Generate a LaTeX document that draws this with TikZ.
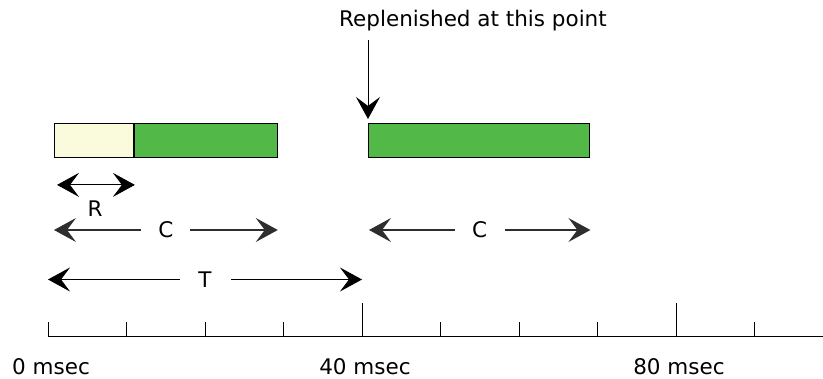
\documentclass[tikz,border=0pt]{standalone}
\usepackage{fontspec}
\setmainfont{DejaVu Sans}
\usetikzlibrary{arrows.meta,calc}

\definecolor{budget}{HTML}{52B848}
\definecolor{spent}{HTML}{FAFADC}
\definecolor{dimgray}{HTML}{2E2E2E}

\tikzset{
  lbl/.style={font=\fontsize{21.5}{25}\selectfont, inner sep=0pt},
  seg/.style={draw=black, line width=0.9pt, minimum height=34pt, inner sep=0pt, anchor=north west},
  bighead/.tip={Stealth[length=22pt 0 0,width=24pt 0 0,inset=9pt 0]},
  headtip/.style={-bighead},
  span/.style={bighead-bighead},
  gap/.style={lbl, fill=white, minimum height=20pt},
  tickline/.style={line width=0.9pt, draw=black},
}

\begin{document}
\begin{tikzpicture}[x=1pt,y=-1pt]
  \useasboundingbox (0,0) rectangle (823,379);

  % budget bars
  \node[seg, fill=spent, minimum width=79pt] (used) at (54,123) {};
  \node[seg, fill=budget, minimum width=143pt] (rest) at (used.north east) {};
  \node[seg, fill=budget, minimum width=221pt] (refill) at (368,123) {};

  % time axis with ticks every 10 msec
  \coordinate (axl) at (48,336);
  \coordinate (axr) at (823,336);
  \draw[tickline] (axl) -- (axr);
  \foreach \k in {0,...,9} {
    \coordinate (t\k) at ($(axl)+(78.5*\k,0)$);
  }
  \foreach \k in {0,1,2,3,5,6,7,9} {
    \draw[tickline] (t\k) -- ++(0,-14);
  }
  \foreach \k in {4,8} {
    \draw[tickline] (t\k) -- ++(0,-33);
  }
  \node[lbl, anchor=base] (l0) at ($(t0)+(3,39)$) {0 msec};
  \node[lbl, anchor=base] (l40) at ($(t4)+(3,39)$) {40 msec};
  \node[lbl, anchor=base] (l80) at ($(t8)+(3,39)$) {80 msec};

  % replenishment marker
  \node[lbl, anchor=base] (note) at (473,27) {Replenished at this point};
  \coordinate (mtop) at ($(refill.north west)+(0,-83)$);
  \coordinate (mtip) at ($(refill.north west)+(0,-4)$);
  \draw[headtip, line width=0.9pt] (mtop) -- (mtip);

  % R span
  \coordinate (ra) at ($(used.south west)+(3,27)$);
  \coordinate (rb) at ($(used.south east)+(1,27)$);
  \draw[span, line width=0.9pt] (ra) -- (rb);
  \node[lbl, anchor=base] (rl) at (95,216.5) {R};

  % C spans
  \coordinate (ca) at (used.south west |- 0,230);
  \coordinate (cb) at (rest.south east |- 0,230);
  \draw[span, line width=1.3pt, dimgray] (ca) -- node[gap, minimum width=49pt, text=black] (cl) {C} (cb);
  \coordinate (cc) at ($(refill.south west |- 0,230)+(1,0)$);
  \coordinate (cd) at ($(refill.south east |- 0,230)+(0.5,0)$);
  \draw[span, line width=1.3pt, dimgray] (cc) -- node[gap, minimum width=50pt, text=black] (cl2) {C} (cd);

  % T span
  \coordinate (ta) at (t0 |- 0,279.5);
  \coordinate (tb) at (t4 |- 0,279.5);
  \draw[span, line width=0.9pt] (ta) -- node[gap, minimum width=51pt] (tl) {T} (tb);
\end{tikzpicture}
\end{document}
